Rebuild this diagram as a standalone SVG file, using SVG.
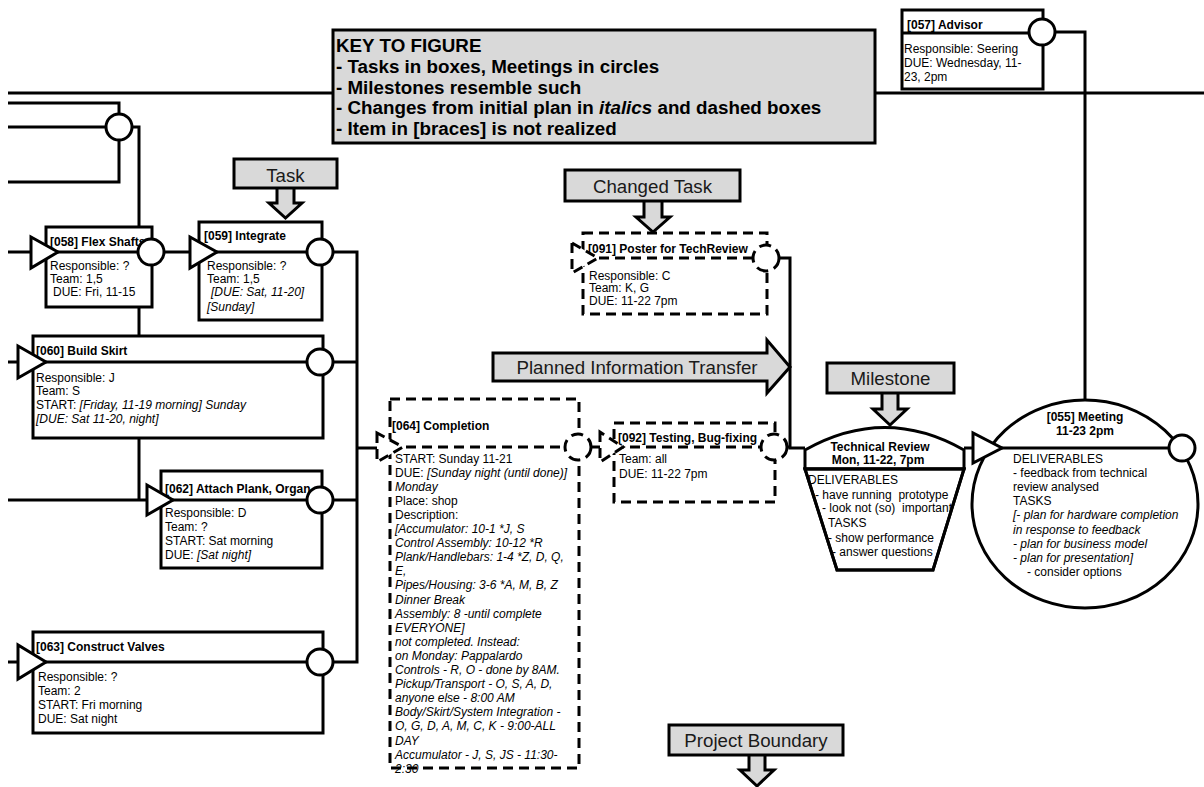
<svg xmlns="http://www.w3.org/2000/svg" width="1204" height="787" viewBox="0 0 1204 787">
<style>
.ln{stroke:#000;stroke-width:3;fill:none}
.box{fill:#fff;stroke:#000;stroke-width:3}
.dbox{fill:#fff;stroke:#000;stroke-width:3;stroke-dasharray:10 6}
.dcir{fill:#fff;stroke:#000;stroke-width:3;stroke-dasharray:12 6}
.call{fill:#d9d9d9;stroke:#000;stroke-width:3}
text{font-family:"Liberation Sans",Arial,sans-serif;font-size:12px;fill:#000}
.b{font-weight:bold}
.i{font-style:italic}
.ct{font-size:18.7px;fill:#1a1a1a}
.key{font-size:18.8px;font-weight:bold}
</style>
<defs>
<clipPath id="trap"><polygon points="805,469 964,469 933,570 837,570"/></clipPath>
</defs>
<rect width="1204" height="787" fill="#fff"/>

<g id="connectors">
<polyline class="ln" points="8,93 334,93"/>
<polyline class="ln" points="874,93 1204,93"/>
<polyline class="ln" points="8,103 119,103 119,114"/>
<polyline class="ln" points="8,127 106,127"/>
<polyline class="ln" points="119,140 119,182 8,182"/>
<polyline class="ln" points="132,127 139,127 139,500"/>
<polyline class="ln" points="8,252 31,252"/>
<polyline class="ln" points="164,252 190,252"/>
<polyline class="ln" points="333,252 357,252 357,662 333,662"/>
<polyline class="ln" points="333,362 357,362"/>
<polyline class="ln" points="333,500 357,500"/>
<polyline class="ln" points="357,448 377,448"/>
<polyline class="ln" points="8,362 18,362"/>
<polyline class="ln" points="8,500 147,500"/>
<polyline class="ln" points="8,662 18,662"/>
<polyline class="ln" points="591,447 600,447"/>
<polyline class="ln" points="779,258 790,258 790,448 805,448"/>
<polyline class="ln" points="787,447 790,447"/>
<polyline class="ln" points="964,448 973,448"/>
<polyline class="ln" points="1055,32 1085,32 1085,400"/>
</g>

<g id="key">
<rect class="call" x="333" y="30" width="542" height="113"/>
<text class="key" x="336" y="52">KEY TO FIGURE</text>
<text class="key" x="336" y="72.5">- Tasks in boxes, Meetings in circles</text>
<text class="key" x="336" y="93.5">- Milestones resemble such</text>
<text class="key" x="336" y="114">- Changes from initial plan in <tspan class="i">italics</tspan> and dashed boxes</text>
<text class="key" x="336" y="134.5">- Item in [braces] is not realized</text>
</g>

<g id="callout-task">
<polygon class="call" points="277,186 277,203 269,203 285.5,218 302,203 294,203 294,186"/>
<rect class="call" x="234" y="159" width="103" height="29"/>
<text class="ct" x="285.5" y="181.5" text-anchor="middle">Task</text>
</g>

<g id="callout-changed">
<polygon class="call" points="644,199 644,217 636,217 653,232 670,217 662,217 662,199"/>
<rect class="call" x="565" y="170" width="175" height="31"/>
<text class="ct" x="652.5" y="192.5" text-anchor="middle">Changed Task</text>
</g>

<g id="callout-transfer">
<polygon class="call" points="493,353 767,353 767,340 790,367 767,393 767,381 493,381"/>
<text class="ct" x="637" y="374" text-anchor="middle">Planned Information Transfer</text>
</g>

<g id="callout-milestone">
<polygon class="call" points="882,391 882,409 873,409 890,425 907,409 898,409 898,391"/>
<rect class="call" x="827" y="363" width="127" height="30"/>
<text class="ct" x="890.5" y="385" text-anchor="middle">Milestone</text>
</g>

<g id="callout-boundary">
<polygon class="call" points="749,753 749,770 740,770 757,786 774,770 765,770 765,753"/>
<rect class="call" x="669" y="725" width="174" height="30"/>
<text class="ct" x="756" y="747" text-anchor="middle">Project Boundary</text>
</g>

<g id="n057">
<rect class="box" x="902" y="10" width="141" height="79"/>
<line class="ln" x1="902" y1="33" x2="1043" y2="33"/>
<text class="b" x="907" y="28.5">[057] Advisor</text>
<text x="904" y="52.5">Responsible: Seering</text>
<text x="904" y="66.5">DUE: Wednesday, 11-</text>
<text x="904" y="81">23, 2pm</text>
<circle class="box" cx="1042" cy="32" r="13"/>
</g>

<g id="n000">
<circle class="box" cx="119" cy="127" r="13"/>
</g>

<g id="n058">
<rect class="box" x="46" y="227" width="106" height="80"/>
<text class="b" x="50" y="246">[058] Flex Shafts</text>
<line class="ln" x1="46" y1="252" x2="152" y2="252"/>
<text x="50" y="269.5">Responsible: ?</text>
<text x="50" y="282.5">Team: 1,5</text>
<text x="53" y="295.5">DUE: Fri, 11-15</text>
<circle class="box" cx="151" cy="252" r="13"/>
<polygon class="box" points="31,237 31,268 58,252"/>
</g>

<g id="n059">
<rect class="box" x="199" y="222" width="123" height="98"/>
<text class="b" x="204" y="240">[059] Integrate</text>
<line class="ln" x1="199" y1="252" x2="322" y2="252"/>
<text x="207" y="269.5">Responsible: ?</text>
<text x="207" y="282.5">Team: 1,5</text>
<text class="i" x="211" y="295.5">[DUE: Sat, 11-20]</text>
<text class="i" x="207" y="311">[Sunday]</text>
<circle class="box" cx="320" cy="252" r="13"/>
<polygon class="box" points="190,237 190,268 217,252"/>
</g>

<g id="n060">
<rect class="box" x="33" y="336" width="290" height="102"/>
<text class="b" x="36" y="354.5">[060] Build Skirt</text>
<line class="ln" x1="33" y1="362" x2="323" y2="362"/>
<text x="36" y="381.5">Responsible: J</text>
<text x="36" y="394.5">Team: S</text>
<text x="36" y="409">START: <tspan class="i">[Friday, 11-19 morning] Sunday</tspan></text>
<text class="i" x="36" y="423">[DUE: Sat 11-20, night]</text>
<circle class="box" cx="320" cy="362" r="13"/>
<polygon class="box" points="18,346 18,378 46,362"/>
</g>

<g id="n062">
<rect class="box" x="161" y="471" width="161" height="97"/>
<text class="b" x="165" y="493">[062] Attach Plank, Organ</text>
<line class="ln" x1="161" y1="500" x2="322" y2="500"/>
<text x="165" y="516.5">Responsible: D</text>
<text x="165" y="530.5">Team: ?</text>
<text x="165" y="544.5">START: Sat morning</text>
<text x="165" y="558.5">DUE: <tspan class="i">[Sat night]</tspan></text>
<circle class="box" cx="320" cy="500" r="13"/>
<polygon class="box" points="147,485 147,515 173,500"/>
</g>

<g id="n063">
<rect class="box" x="33" y="632" width="290" height="101"/>
<text class="b" x="36" y="651">[063] Construct Valves</text>
<line class="ln" x1="33" y1="662" x2="323" y2="662"/>
<text x="38" y="681">Responsible: ?</text>
<text x="38" y="694.5">Team: 2</text>
<text x="38" y="708.5">START: Fri morning</text>
<text x="38" y="722.5">DUE: Sat night</text>
<circle class="box" cx="320" cy="662" r="13"/>
<polygon class="box" points="18,645 18,679 46,662"/>
</g>

<g id="n064">
<rect class="dbox" x="390" y="399" width="189" height="369" fill="none"/>
<text class="b" x="392" y="429.5">[064] Completion</text>
<line class="ln" x1="390" y1="447" x2="579" y2="447" stroke-dasharray="10 6"/>
<text x="395" y="462.5">START: Sunday 11-21</text>
<text x="395" y="476.6">DUE: <tspan class="i">[Sunday night (until done)]</tspan></text>
<text class="i" x="395" y="490.7">Monday</text>
<text x="395" y="504.8">Place: shop</text>
<text x="395" y="518.9">Description:</text>
<text class="i" x="395" y="533">[Accumulator: 10-1 *J, S</text>
<text class="i" x="395" y="547.1">Control Assembly: 10-12 *R</text>
<text class="i" x="395" y="561.2">Plank/Handlebars: 1-4 *Z, D, Q,</text>
<text class="i" x="395" y="575.3">E,</text>
<text class="i" x="395" y="589.4">Pipes/Housing: 3-6 *A, M, B, Z</text>
<text class="i" x="395" y="603.5">Dinner Break</text>
<text class="i" x="395" y="617.6">Assembly: 8 -until complete</text>
<text class="i" x="395" y="631.7">EVERYONE]</text>
<text class="i" x="395" y="645.8">not completed. Instead:</text>
<text class="i" x="395" y="659.9">on Monday: Pappalardo</text>
<text class="i" x="395" y="674">Controls - R, O - done by 8AM.</text>
<text class="i" x="395" y="688.1">Pickup/Transport - O, S, A, D,</text>
<text class="i" x="395" y="702.2">anyone else - 8:00 AM</text>
<text class="i" x="395" y="716.3">Body/Skirt/System Integration -</text>
<text class="i" x="395" y="730.4">O, G, D, A, M, C, K - 9:00-ALL</text>
<text class="i" x="395" y="744.5">DAY</text>
<text class="i" x="395" y="758.6">Accumulator - J, S, JS - 11:30-</text>
<text class="i" x="395" y="772.7">2:30</text>
<circle class="dcir" cx="578" cy="447" r="13"/>
<polygon class="dbox" points="377,433 377,462 403,447"/>
</g>

<g id="n091">
<rect class="dbox" x="583" y="233" width="184" height="81"/>
<text class="b" x="588" y="252.5">[091] Poster for TechReview</text>
<line class="ln" x1="583" y1="258" x2="767" y2="258" stroke-dasharray="10 6"/>
<text x="589" y="279.5">Responsible: C</text>
<text x="589" y="292">Team: K, G</text>
<text x="589" y="304.5">DUE: 11-22 7pm</text>
<circle class="dcir" cx="766" cy="258" r="13"/>
<polygon class="dbox" points="572,243 572,273 598,258"/>
</g>

<g id="n092">
<rect class="dbox" x="614" y="423" width="161" height="79"/>
<text class="b" x="618" y="441.5">[092] Testing, Bug-fixing</text>
<line class="ln" x1="614" y1="447" x2="775" y2="447" stroke-dasharray="10 6"/>
<text x="619" y="462.5">Team: all</text>
<text x="619" y="477.5">DUE: 11-22 7pm</text>
<circle class="dcir" cx="774" cy="447" r="13"/>
<polygon class="dbox" points="600,432 600,462 623,447"/>
</g>

<g id="milestone-review">
<path class="box" d="M805,469 L805,450 Q885,405 964,450 L964,469 Z"/>
<polygon class="box" points="805,469 964,469 933,570 837,570"/>
<text class="b" x="880" y="450.5" text-anchor="middle">Technical Review</text>
<text class="b" x="878" y="463.5" text-anchor="middle">Mon, 11-22, 7pm</text>
<g clip-path="url(#trap)">
<text x="808" y="483.5">DELIVERABLES</text>
<text x="815" y="498.5" xml:space="preserve">- have running  prototype</text>
<text x="822" y="511.5" xml:space="preserve">- look not (so)  important</text>
<text x="828" y="526.5">TASKS</text>
<text x="828" y="541.5">- show performance</text>
<text x="832" y="555.5">- answer questions</text>
</g>
<polygon class="ln" points="805,469 964,469 933,570 837,570"/>
</g>

<g id="n055">
<ellipse class="box" cx="1085" cy="504" rx="113" ry="104"/>
<line class="ln" x1="990" y1="448" x2="1169" y2="448"/>
<text class="b" x="1085" y="420.5" text-anchor="middle">[055] Meeting</text>
<text class="b" x="1085" y="434.5" text-anchor="middle">11-23 2pm</text>
<text x="1013" y="462.5">DELIVERABLES</text>
<text x="1013" y="476.7">- feedback from technical</text>
<text x="1013" y="490.9">review analysed</text>
<text x="1013" y="505.1">TASKS</text>
<text class="i" x="1013" y="519.3">[- plan for hardware completion</text>
<text class="i" x="1013" y="533.5">in response to feedback</text>
<text class="i" x="1013" y="547.7">- plan for business model</text>
<text class="i" x="1013" y="561.9">- plan for presentation]</text>
<text x="1027" y="576.1">- consider options</text>
<circle class="box" cx="1182" cy="448" r="13"/>
<polygon class="box" points="973,433 973,463 1002,448"/>
</g>
</svg>
